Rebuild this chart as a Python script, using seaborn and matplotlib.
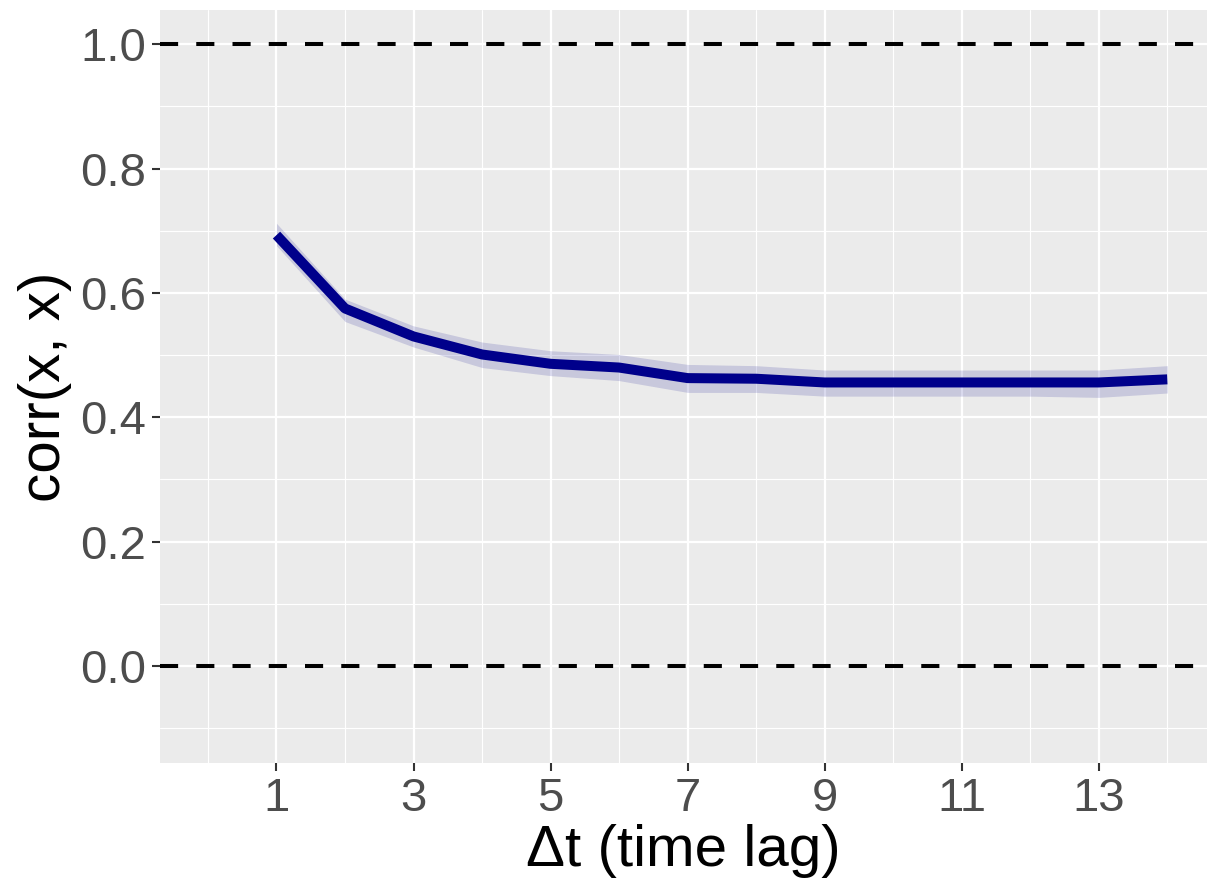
import pandas as pd
import matplotlib
matplotlib.use("Agg")
import matplotlib.pyplot as plt
import seaborn as sns
import numpy as np

# autocorrelation vs time lag
lags = [1, 2, 3, 4, 5, 6, 7, 8, 9, 10, 11, 12, 13, 14]
corr_mean = [0.693, 0.575, 0.530, 0.501, 0.486, 0.480, 0.463, 0.462,
             0.456, 0.456, 0.456, 0.456, 0.456, 0.461]
corr_low = [0.676, 0.554, 0.513, 0.480, 0.467, 0.459, 0.440, 0.440,
            0.434, 0.434, 0.434, 0.434, 0.432, 0.439]
corr_high = [0.712, 0.590, 0.547, 0.521, 0.507, 0.501, 0.485, 0.483,
             0.476, 0.476, 0.476, 0.476, 0.476, 0.483]
ref_levels = [0.0, 1.0]
x_ticks = [1, 3, 5, 7, 9, 11, 13]
y_ticks = [0.0, 0.2, 0.4, 0.6, 0.8, 1.0]

df = pd.DataFrame({"lag": lags, "corr": corr_mean,
                   "low": corr_low, "high": corr_high})

sns.set_theme(style="darkgrid", rc={
    "axes.facecolor": "#EBEBEB",
    "grid.color": "white",
    "axes.edgecolor": "#EBEBEB",
})
plt.rcParams["font.family"] = ["Liberation Sans", "DejaVu Sans"]

fig = plt.figure(figsize=(12.07, 8.84), dpi=100)
ax = fig.add_axes([160 / 1207, 1 - 763 / 884, 1 - 160 / 1207, (763 - 10) / 884])

# minor grid
ax.set_xticks(np.arange(0, 15, 2), minor=True)
ax.set_yticks(np.arange(-0.1, 1.0, 0.2), minor=True)
ax.grid(which="major", color="white", linewidth=1.6)
ax.grid(which="minor", color="white", linewidth=0.8)

for lvl in ref_levels:
    ax.axhline(lvl, color="black", linewidth=2.9, linestyle=(0, (4.5, 4.5)),
               dash_capstyle="butt", zorder=3)

ax.fill_between(df["lag"], df["low"], df["high"], color="#00008B",
                alpha=0.15, linewidth=0, zorder=2)
sns.lineplot(data=df, x="lag", y="corr", color="#00008B", linewidth=7.2,
             ax=ax, zorder=4, solid_capstyle="butt", solid_joinstyle="round")

ax.set_xlim(-0.7, 14.58)
ax.set_ylim(-0.156, 1.055)
ax.set_xticks(x_ticks)
ax.set_xticklabels([str(t) for t in x_ticks])
ax.set_yticks(y_ticks)
ax.set_yticklabels([f"{t:.1f}" for t in y_ticks])
ax.tick_params(axis="both", which="major", labelsize=34, labelcolor="#4D4D4D",
               length=6, width=1.5, color="#333333", pad=4, bottom=True, left=True)
ax.tick_params(axis="both", which="minor", length=0)

ax.set_xlabel("\u0394t (time lag)", fontsize=42, color="black", labelpad=2)
ax.set_ylabel("corr(x, x)", fontsize=42, color="black", labelpad=6)

for s in ax.spines.values():
    s.set_visible(False)

plt.savefig("out.png", dpi=100)
